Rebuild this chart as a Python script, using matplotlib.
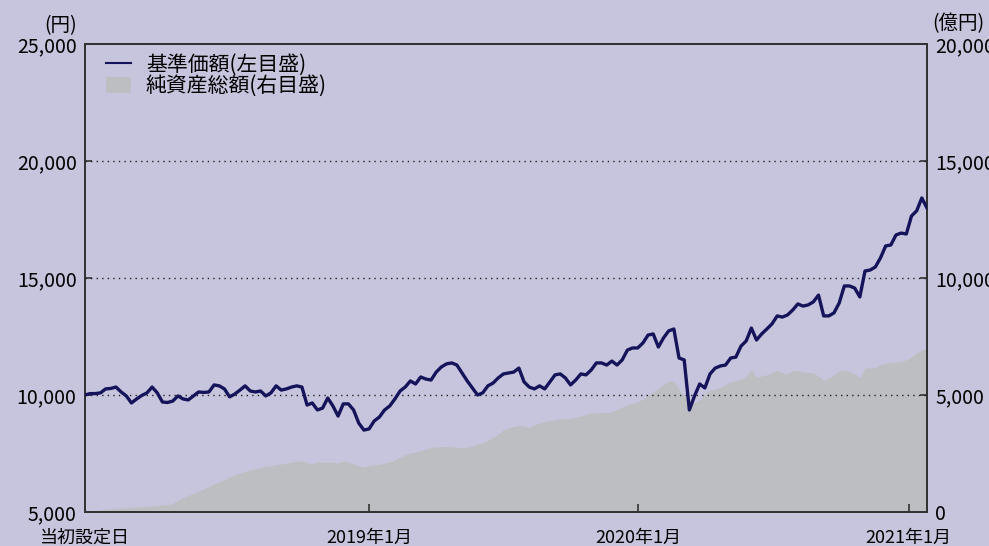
import matplotlib
matplotlib.use("Agg")
import matplotlib.pyplot as plt
from matplotlib.lines import Line2D
from matplotlib.patches import Patch
import pandas as pd

plt.rcParams["font.family"] = ["Noto Sans CJK JP", "DejaVu Sans"]

# 週次データ（当初設定日から）
start_date = "2017-12-12"

# 基準価額（円、左目盛）
nav = [
    10000, 10060, 10060, 10090, 10260, 10280, 10340, 10130, 9960, 9660,
    9830, 9980, 10090, 10340, 10090, 9700, 9680, 9740, 9960, 9830,
    9790, 9960, 10130, 10110, 10130, 10430, 10390, 10260, 9920, 10040,
    10210, 10390, 10170, 10130, 10170, 9960, 10090, 10390, 10210, 10260,
    10340, 10390, 10340, 9570, 9660, 9360, 9440, 9870, 9530, 9100,
    9620, 9620, 9360, 8800, 8500, 8550, 8890, 9060, 9360, 9530,
    9830, 10170, 10340, 10600, 10470, 10770, 10680, 10640, 10980, 11200,
    11330, 11370, 11280, 10940, 10600, 10300, 10000, 10090, 10390, 10510,
    10730, 10900, 10940, 10980, 11150, 10560, 10340, 10260, 10390, 10260,
    10560, 10860, 10900, 10730, 10430, 10640, 10900, 10860, 11070, 11370,
    11370, 11280, 11450, 11280, 11500, 11920, 12010, 12010, 12220, 12560,
    12610, 12050, 12440, 12740, 12820, 11580, 11500, 9360, 9960, 10470,
    10300, 10900, 11150, 11240, 11280, 11580, 11620, 12090, 12310, 12860,
    12350, 12610, 12820, 13040, 13380, 13330, 13420, 13630, 13890, 13800,
    13850, 13980, 14270, 13380, 13380, 13510, 13930, 14660, 14660, 14570,
    14190, 15300, 15340, 15470, 15860, 16370, 16410, 16840, 16920, 16880,
    17650, 17870, 18420, 17990,
]

# 純資産総額（億円、右目盛）
assets = [
    0, 30, 60, 90, 110, 140, 160, 170, 180, 200,
    210, 230, 240, 260, 280, 300, 320, 360, 510, 620,
    710, 790, 880, 980, 1090, 1200, 1280, 1370, 1500, 1580,
    1670, 1730, 1800, 1840, 1900, 1950, 1970, 2010, 2050, 2090,
    2140, 2160, 2180, 2090, 2070, 2140, 2120, 2140, 2120, 2090,
    2160, 2140, 2050, 1970, 1920, 1990, 2010, 2050, 2090, 2140,
    2220, 2350, 2440, 2520, 2560, 2630, 2690, 2760, 2780, 2780,
    2800, 2780, 2760, 2740, 2760, 2820, 2910, 2950, 3060, 3180,
    3330, 3510, 3610, 3650, 3700, 3680, 3610, 3720, 3800, 3850,
    3910, 3930, 3980, 3980, 4000, 4060, 4100, 4170, 4230, 4230,
    4250, 4250, 4270, 4380, 4490, 4570, 4640, 4700, 4830, 4980,
    5130, 5300, 5450, 5580, 5600, 5210, 4980, 4830, 4660, 4810,
    5040, 5210, 5260, 5320, 5450, 5560, 5620, 5680, 5810, 6070,
    5770, 5810, 5860, 5940, 6050, 5940, 5900, 6030, 6050, 5980,
    5960, 5940, 5810, 5640, 5710, 5860, 6030, 6070, 6000, 5900,
    5730, 6160, 6160, 6160, 6280, 6370, 6390, 6410, 6430, 6500,
    6630, 6800, 6920, 7010,
]

x_ticks = [start_date, "2019-01-01", "2020-01-01", "2021-01-01"]
x_labels = ["当初設定日", "2019年1月", "2020年1月", "2021年1月"]
left_ticks = [5000, 10000, 15000, 20000, 25000]
left_labels = ["5,000", "10,000", "15,000", "20,000", "25,000"]
right_ticks = [0, 5000, 10000, 15000, 20000]
right_labels = ["0", "5,000", "10,000", "15,000", "20,000"]

bg = "#c7c4dd"
line_color = "#15145a"
area_color = "#bdbec2"
spine_color = "#333333"
fs = 14

dates = pd.date_range(start_date, periods=len(nav), freq="7D")

fig = plt.figure(figsize=(9.89, 5.46), dpi=100, facecolor=bg)
ax = fig.add_axes([0.0859, 0.0623, 0.8514, 0.8571])
ax2 = ax.twinx()

# 純資産総額（面）
ax2.fill_between(dates, assets, 0, color=area_color, linewidth=0)
ax2.set_ylim(0, 20000)
ax2.set_yticks(right_ticks)
ax2.set_yticklabels(right_labels, fontsize=fs)
ax2.set_facecolor("white")

# 基準価額（線）
ax.set_zorder(ax2.get_zorder() + 1)
ax.patch.set_visible(False)
ax.plot(dates, nav, color=line_color, linewidth=2.4, solid_joinstyle="round", zorder=3)
ax.set_ylim(5000, 25000)
ax.set_yticks(left_ticks)
ax.set_yticklabels(left_labels, fontsize=fs)
for v in [10000, 15000, 20000]:
    ax.axhline(v, color="#222222", linestyle=(0, (1, 3)), linewidth=1.0, zorder=2)

ax.set_xlim(dates[0], dates[-1])
ax.set_xticks(pd.to_datetime(x_ticks))
ax.set_xticklabels(x_labels, fontsize=13)

for a in (ax, ax2):
    for s in a.spines.values():
        s.set_color(spine_color)
        s.set_linewidth(1.4)
ax.tick_params(axis="y", direction="in", length=5, width=1.2, color=spine_color, pad=6)
ax2.tick_params(axis="y", direction="in", length=5, width=1.2, color=spine_color, pad=6)
ax.tick_params(axis="x", direction="in", length=6, width=1.2, color=spine_color, pad=12)

fig.text(0.078, 0.953, "(円)", fontsize=fs, ha="right", va="center")
fig.text(0.943, 0.956, "(億円)", fontsize=fs, ha="left", va="center")

handles = [
    Line2D([0], [0], color=line_color, linewidth=1.5),
    Patch(facecolor=area_color, edgecolor="none"),
]
ax.legend(handles, ["基準価額(左目盛)", "純資産総額(右目盛)"], loc="upper left",
          bbox_to_anchor=(0.008, 1.01), frameon=False, fontsize=15,
          handlelength=1.2, handleheight=0.8, handletextpad=0.7,
          labelspacing=-0.05, borderpad=0.2)

fig.savefig("out.png", dpi=100, facecolor=bg)
